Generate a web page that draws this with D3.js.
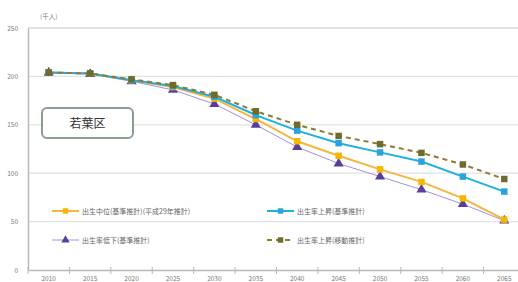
<!DOCTYPE html>
<html><head><meta charset="utf-8">
<script src="https://cdn.jsdelivr.net/npm/d3@7"></script>
<style>body{margin:0;background:#fff}svg{display:block}</style>
</head><body><svg id="c" width="518" height="282"></svg>
<script>
const years = ["2010","2015","2020","2025","2030","2035","2040","2045","2050","2055","2060","2065"];
const yTicks = [0,50,100,150,200,250];
const seriesNames = ["出生中位(基準推計)(平成29年推計)","出生率上昇(基準推計)","出生率低下(基準推計)","出生率上昇(移動推計)"];
const orangeVals = [204,203,196,189,177,156,133,118,104,91,74,52];
const cyanVals   = [204,203,196,190,179,160,144,131,121.5,112,96.5,81];
const purpleVals = [204,202.5,195,186,171.5,150,127,110,96.5,83,68,51];
const oliveVals  = [204,203,197,191,181,164,150,138.5,130,121,109,94];
const unitLabel = "(千人)";
const wardLabel = "若葉区";

const svg = d3.select("#c");
const L = 28, R = 525, T = 28, B = 270;
const x = d3.scaleBand().domain(years).range([L, R]);
const y = d3.scaleLinear().domain([0,250]).range([B, T]);
const font = "'Noto Sans CJK JP','Noto Sans',sans-serif";

svg.append("g").selectAll("line").data(yTicks.filter(d=>d>0)).join("line")
  .attr("x1", L).attr("x2", 518).attr("y1", d=>y(d)).attr("y2", d=>y(d))
  .attr("stroke", d=>d===250?"#c8c8c8":"#e2e2e2").attr("stroke-width", 1.2);

const ya = svg.append("g").attr("transform",`translate(${L},0)`)
  .call(d3.axisLeft(y).tickValues(yTicks).tickSize(0).tickPadding(10));
ya.select(".domain").attr("stroke","#b8b8b8").attr("stroke-width",1.5);
ya.selectAll("text").attr("font-family",font).attr("font-size",6.5).attr("fill","#777");

const xa = svg.append("g").attr("transform",`translate(0,${B})`)
  .call(d3.axisBottom(x).tickSize(0).tickPadding(6));
xa.select(".domain").attr("stroke","#b8b8b8").attr("stroke-width",1.5);
xa.selectAll("text").attr("font-family",font).attr("font-size",6.5).attr("fill","#777");
svg.append("g").selectAll("line").data(years).join("line")
  .attr("x1", d=>x(d)).attr("x2", d=>x(d)).attr("y1", B-3).attr("y2", B+4)
  .attr("stroke","#b8b8b8");

svg.append("text").attr("x",40).attr("y",19).text(unitLabel)
  .attr("font-family",font).attr("font-size",6.5).attr("fill","#777");

svg.append("rect").attr("x",42).attr("y",108).attr("width",91).attr("height",30)
  .attr("rx",5).attr("fill","#fff").attr("stroke","#8a9e8c").attr("stroke-width",2);
svg.append("text").attr("x",87.5).attr("y",127.5).attr("text-anchor","middle")
  .text(wardLabel).attr("font-family",font).attr("font-size",12).attr("fill","#333");

const cx = d => x(d) + x.bandwidth()/2;
const line = d3.line().x((d,i)=>cx(years[i])).y(d=>y(d));

const series = [
  {vals:purpleVals, color:"#a58fdc", mcolor:"#5a3f9a", w:1, dash:null, shape:"tri"},
  {vals:orangeVals, color:"#f5b540", mcolor:"#f5b800", w:2, dash:null, shape:"sq"},
  {vals:cyanVals, color:"#1fb0dd", mcolor:"#2aa3dc", w:2, dash:null, shape:"sq"},
  {vals:oliveVals, color:"#8e7a34", mcolor:"#6f6a2e", w:2, dash:"5,4", shape:"sq"}
];
const sym = s => s==="tri"?d3.symbolTriangle:(s==="dia"?d3.symbolDiamond:d3.symbolSquare);
series.forEach(s=>{
  svg.append("path").attr("d", line(s.vals)).attr("fill","none")
    .attr("stroke", s.color).attr("stroke-width", s.w).attr("stroke-dasharray", s.dash);
  svg.append("g").selectAll("path").data(s.vals).join("path")
    .attr("transform",(d,i)=>`translate(${cx(years[i])},${y(d)})`)
    .attr("d", d3.symbol().type(sym(s.shape)).size(s.shape==="tri"?44:42))
    .attr("fill", s.mcolor);
});

const leg = [
  {name:seriesNames[0], s:series[1], lx:52, ly:211},
  {name:seriesNames[1], s:series[2], lx:267, ly:211},
  {name:seriesNames[2], s:series[0], lx:52, ly:240},
  {name:seriesNames[3], s:series[3], lx:267, ly:240}
];
leg.forEach(l=>{
  svg.append("line").attr("x1",l.lx).attr("x2",l.lx+27).attr("y1",l.ly).attr("y2",l.ly)
    .attr("stroke",l.s.color).attr("stroke-width",l.s.w).attr("stroke-dasharray",l.s.dash);
  svg.append("path").attr("transform",`translate(${l.lx+13.5},${l.ly})`)
    .attr("d", d3.symbol().type(sym(l.s.shape)).size(30)).attr("fill",l.s.mcolor);
  svg.append("text").attr("x",l.lx+30).attr("y",l.ly+2.5).text(l.name)
    .attr("font-family",font).attr("font-size",7).attr("fill","#666");
});
</script></body></html>
